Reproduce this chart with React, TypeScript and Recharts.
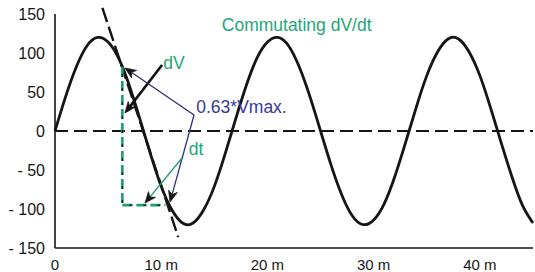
import React from "react";
import { LineChart, Line, XAxis, YAxis, ReferenceLine, ReferenceDot } from "recharts";

// time in ms, voltage in V
const timeMs = [
  0, 1, 2, 3, 4, 5, 6, 7, 8, 9, 10, 11, 12, 13, 14, 15, 16, 17, 18, 19, 20, 21, 22,
  23, 24, 25, 26, 27, 28, 29, 30, 31, 32, 33, 34, 35, 36, 37, 38, 39, 40, 41, 42, 43, 44, 45,
];
const voltage = [
  0, 44, 82, 109, 120, 114, 93, 58, 15, -30, -71, -101, -118, -118, -101, -71, -30, 15, 58,
  93, 114, 120, 109, 82, 44, 0, -44, -82, -109, -120, -114, -93, -58, -15, 30, 71, 101, 118,
  118, 101, 71, 30, -15, -58, -95, -118,
];

const xTicks = [0, 10, 20, 30, 40];
const yTicks = [-150, -100, -50, 0, 50, 100, 150];

// annotation geometry, in data units
const tangent = [{ x: 4.46, y: 158 }, { x: 11.6, y: -136 }];
const dvSegment = [{ x: 6.34, y: 82 }, { x: 6.34, y: -95 }];
const dtSegment = [{ x: 6.34, y: -95 }, { x: 10.4, y: -95 }];

const arrows = [
  { from: { x: 10.08, y: 84.6 }, to: { x: 6.59, y: 23.1 }, color: "#111", width: 2.6 },
  { from: { x: 13.09, y: 20.5 }, to: { x: 6.59, y: 80.8 }, color: "#2b2f7c", width: 1.3 },
  { from: { x: 13.09, y: 20.5 }, to: { x: 10.83, y: -91 }, color: "#2b2f7c", width: 1.3 },
  { from: { x: 11.96, y: -34.6 }, to: { x: 8.47, y: -92.3 }, color: "#1a9a6e", width: 1.3 },
];

const notes = [
  { x: 15.7, y: 136, text: "Commutating dV/dt", color: "#22a679" },
  { x: 10.2, y: 88, text: "dV", color: "#22a679" },
  { x: 13.3, y: 31, text: "0.63*Vmax.", color: "#34389a" },
  { x: 12.6, y: -23, text: "dt", color: "#22a679" },
];

const GREEN = "#1f9e74";
const INK = "#151515";

const rows = timeMs.map((t, i) => ({ t, v: voltage[i] }));

function arrowShape(color: string, width: number) {
  return (p: any) => {
    const { x1, y1, x2, y2 } = p;
    const dx = x2 - x1;
    const dy = y2 - y1;
    const len = Math.hypot(dx, dy) || 1;
    const ux = dx / len;
    const uy = dy / len;
    const L = 11;
    const W = 4.5;
    const bx = x2 - ux * L;
    const by = y2 - uy * L;
    const nx = -uy;
    const ny = ux;
    const cx = x2 - ux * L * 0.7;
    const cy = y2 - uy * L * 0.7;
    const d = `M${x2},${y2} L${bx + nx * W},${by + ny * W} L${cx},${cy} L${bx - nx * W},${by - ny * W} Z`;
    return (
      <g>
        <line x1={x1} y1={y1} x2={cx} y2={cy} stroke={color} strokeWidth={width} />
        <path d={d} fill={INK} stroke={INK} strokeWidth={0.8} />
      </g>
    );
  };
}

const fmtX = (v: number) => (v === 0 ? "0" : `${v} m`);
const fmtY = (v: number) => (v < 0 ? `- ${-v}` : `${v}`);

export default function App() {
  return (
    <div style={{ position: "fixed", left: 0, top: 0, width: 535, height: 272, background: "#fff", fontFamily: "'Liberation Sans', Arial, sans-serif" }}>
      <LineChart width={535} height={272} data={rows} margin={{ top: 14, right: 2, bottom: 0, left: 0 }}>
        <XAxis
          dataKey="t"
          type="number"
          domain={[0, 45]}
          ticks={xTicks}
          tickFormatter={fmtX}
          tickLine={false}
          tickMargin={5}
          height={24}
          axisLine={{ stroke: INK, strokeWidth: 1.6 }}
          tick={{ fill: INK, fontSize: 15 }}
        />
        <YAxis
          type="number"
          domain={[-150, 150]}
          ticks={yTicks}
          tickFormatter={fmtY}
          tickLine={false}
          tickMargin={4}
          width={55}
          axisLine={{ stroke: INK, strokeWidth: 1.6 }}
          tick={{ fill: INK, fontSize: 16 }}
        />
        <ReferenceLine y={0} stroke={INK} strokeWidth={2} strokeDasharray="13 6" />
        <Line
          type="natural"
          dataKey="v"
          stroke={INK}
          strokeWidth={2.8}
          dot={false}
          isAnimationActive={false}
        />
        <ReferenceLine segment={tangent} ifOverflow="visible" stroke={INK} strokeWidth={2.4} strokeDasharray="15 5" />
        <ReferenceLine segment={dvSegment} stroke={GREEN} strokeWidth={2.6} strokeDasharray="10 4" />
        <ReferenceLine segment={dtSegment} stroke={GREEN} strokeWidth={2.6} strokeDasharray="10 4" />
        <ReferenceLine segment={dvSegment} stroke={INK} strokeWidth={1.2} strokeDasharray="3 11" strokeDashoffset={-7} />
        <ReferenceLine segment={dtSegment} stroke={INK} strokeWidth={1.2} strokeDasharray="3 11" strokeDashoffset={-7} />
        {arrows.map((a, i) => (
          <ReferenceLine
            key={`arrow-${i}`}
            segment={[a.from, a.to]}
            ifOverflow="visible"
            stroke={a.color}
            shape={arrowShape(a.color, a.width)}
          />
        ))}
        {notes.map((n, i) => (
          <ReferenceDot
            key={`note-${i}`}
            x={n.x}
            y={n.y}
            r={0}
            stroke="none"
            fill="none"
            label={{ value: n.text, position: "right", offset: 0, fill: n.color, fontSize: 17.5 }}
          />
        ))}
      </LineChart>
    </div>
  );
}
